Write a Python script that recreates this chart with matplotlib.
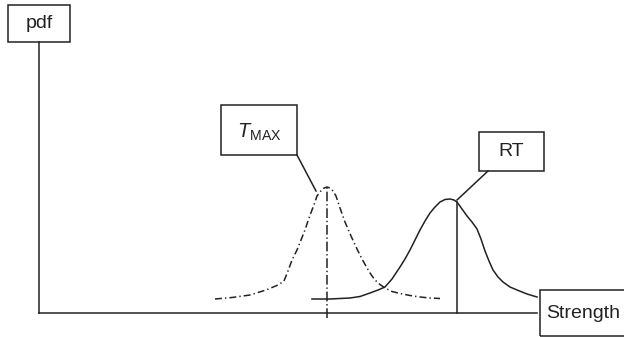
import matplotlib.pyplot as plt
from matplotlib.patches import Rectangle

plt.rcParams['font.family'] = ['Liberation Sans', 'DejaVu Sans']
plt.rcParams['mathtext.fontset'] = 'custom'
plt.rcParams['mathtext.rm'] = 'Liberation Sans'
plt.rcParams['mathtext.it'] = 'Liberation Sans:italic'
plt.rcParams['lines.scale_dashes'] = False

# strength (arbitrary units) vs pdf (arbitrary units)
tmax_strength = [215, 232, 250, 266, 278, 284, 288, 292, 297, 301, 305, 309, 312, 315,
                 317, 320, 323, 327, 330, 333, 336, 340, 345, 351, 357, 362, 367,
                 371, 375, 380, 385, 392, 400, 410, 420, 430, 440]
tmax_pdf = [14, 15.5, 18, 23, 28, 32, 42, 53, 63, 73, 83, 95, 103, 111,
            117, 121, 124.5, 126, 125, 122, 117, 105, 91, 77, 64, 54, 45,
            38.5, 33, 28.5, 25, 21.5, 19.5, 17.5, 16, 15, 14.5]

rt_strength = [312, 330, 350, 360, 370, 378, 385, 392, 400, 405, 410, 415, 420, 425,
               430, 435, 440, 445, 450, 454, 457, 462, 467, 472, 477, 481, 485,
               489, 493, 498, 503, 510, 517, 527, 537]
rt_pdf = [14, 14, 15, 16.5, 20, 23, 26, 34, 46, 54, 63, 73, 83, 92,
          100, 106, 111, 113.5, 114, 113, 111, 104, 97, 91, 84, 74, 62,
          52, 43, 36, 31, 26, 23, 19, 16]

tmax_mean = 327
rt_mean = 457

ink = '#222222'
lw = 1.1

fig = plt.figure(figsize=(6.24, 3.37), dpi=100)
ax = fig.add_axes([0, 0, 1, 1])
ax.set_xlim(0, 624)
ax.set_ylim(-24, 313)
ax.axis('off')

# axes drawn by hand
ax.plot([39, 39], [0, 271], color=ink, lw=lw)
ax.plot([39, 537], [0, 0], color=ink, lw=lw)

# the two distributions
ax.plot(tmax_strength, tmax_pdf, color=ink, lw=lw, ls=(0, (5, 2.2, 1, 2.2)))
ax.plot(rt_strength, rt_pdf, color=ink, lw=lw)

# mean markers
ax.plot([tmax_mean, tmax_mean], [-5, max(tmax_pdf)], color=ink, lw=lw,
        ls=(0, (7, 2, 1, 2)))
ax.plot([rt_mean, rt_mean], [0, rt_pdf[rt_strength.index(rt_mean)]], color=ink, lw=lw)


def label_box(x0, y0, x1, y1, text, tx, ty, ha='center', size=14):
    ax.add_patch(Rectangle((x0, y0), x1 - x0, y1 - y0, fill=False,
                           edgecolor=ink, lw=lw, clip_on=False))
    ax.text(tx, ty, text, ha=ha, va='center', fontsize=size, color=ink)


label_box(8, 271, 70, 308, 'pdf', 39, 289)
label_box(221, 158, 297, 208, r'$T_{\mathrm{MAX}}$', 259, 181, size=14.5)
label_box(479, 142, 544, 181, 'RT', 511.5, 161)
label_box(540, -23, 632, 23, 'Strength', 546, 0, ha='left')

# leader lines from labels to curve peaks
ax.plot([297, 316], [158, 122], color=ink, lw=lw)
ax.plot([488, rt_mean], [142, 113], color=ink, lw=lw)

fig.savefig('out.png', dpi=100)
